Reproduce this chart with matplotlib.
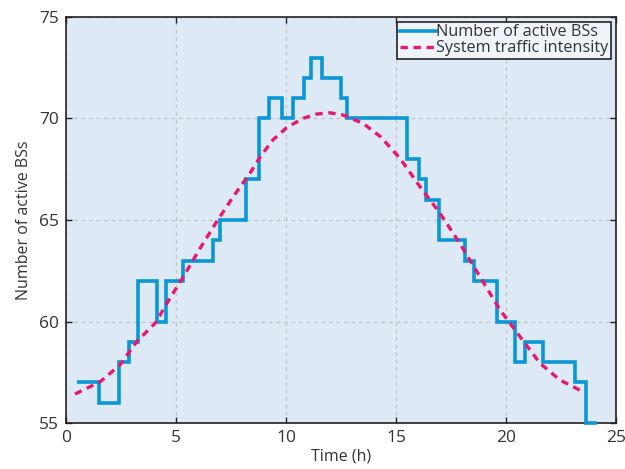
import matplotlib
matplotlib.use("Agg")
import matplotlib.pyplot as plt

# Step series: number of active BSs (edges in hours, values per interval)
bs_edges = [0.49, 1.51, 2.41, 2.86, 3.29, 4.15, 4.55, 5.33, 6.70, 7.00, 8.16,
            8.76, 9.24, 9.80, 10.30, 10.82, 11.12, 11.62, 12.50, 12.79, 15.49,
            16.03, 16.36, 16.97, 18.15, 18.55, 19.60, 20.40, 20.86, 21.70,
            23.14, 23.62, 24.12]
bs_values = [57, 56, 58, 59, 62, 60, 62, 63, 64, 65, 67, 70, 71, 70, 71, 72,
             73, 72, 71, 70, 68, 67, 66, 64, 63, 62, 60, 58, 59, 58, 57, 55]

# System traffic intensity (read points)
tr_time = [0.41, 1.55, 2.45, 3.21, 4.12, 4.50, 5.33, 6.09, 6.85, 7.60, 8.36,
           8.82, 9.41, 10.03, 10.78, 11.40, 12.00, 12.60, 13.50, 14.30, 15.18,
           16.09, 17.00, 17.90, 18.82, 19.73, 20.64, 21.55, 22.45, 23.50]
tr_value = [56.43, 57.03, 57.86, 59.00, 60.00, 60.75, 62.20, 63.60, 64.92,
            66.15, 67.30, 68.10, 68.95, 69.55, 70.01, 70.22, 70.28, 70.17,
            69.76, 69.10, 68.04, 66.64, 65.33, 63.85, 62.20, 60.57, 59.25,
            57.94, 57.12, 56.54]

x_ticks = [0, 5, 10, 15, 20, 25]
y_ticks = [55, 60, 65, 70, 75]

plt.rcParams['font.family'] = ['Open Sans', 'DejaVu Sans']
text_color = '#333333'

fig = plt.figure(figsize=(6.25, 4.69), dpi=100)
ax = fig.add_axes([0.1056, 0.098, 0.88, 0.8658])
ax.set_facecolor('#dde9f5')

ax.stairs(bs_values, bs_edges, baseline=None, color='#0b97d7', linewidth=2.6,
          label='Number of active BSs', clip_on=False, zorder=3)
ax.plot(tr_time, tr_value, color='#e8176f', linewidth=2.4, linestyle=(0, (2.2, 1.7)),
        label='System traffic intensity', zorder=4)

ax.set_xlim(0, 25)
ax.set_ylim(55, 75)
ax.set_xticks(x_ticks)
ax.set_yticks(y_ticks)
ax.grid(True, color='#c4c4c4', linestyle=(0, (3, 3)), linewidth=0.9)
ax.set_axisbelow(True)
ax.tick_params(direction='in', length=4, width=1, top=True, right=True,
               labelsize=12.5, labelcolor=text_color, colors='#222222', pad=5)
for s in ax.spines.values():
    s.set_color('#222222')
    s.set_linewidth(1.2)

ax.set_xlabel('Time (h)', fontsize=11.5, color=text_color, labelpad=2)
ax.set_ylabel('Number of active BSs', fontsize=11.5, color=text_color, labelpad=5)

leg = ax.legend(loc='upper right', fontsize=11.7, frameon=True, fancybox=False,
                handlelength=2.2, handletextpad=0.05, borderpad=0.15,
                labelspacing=0.0, borderaxespad=0.3, labelcolor=text_color)
leg.get_frame().set_edgecolor('#222222')
leg.get_frame().set_linewidth(1.2)
leg.get_frame().set_facecolor('#eef4fa')
leg.get_frame().set_alpha(1)

fig.savefig('out.png', dpi=100)
